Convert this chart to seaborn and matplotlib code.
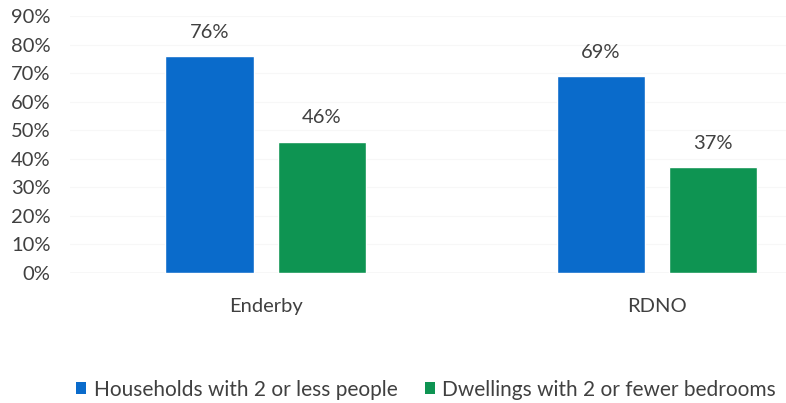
import matplotlib
matplotlib.use("Agg")
import matplotlib.pyplot as plt
import seaborn as sns
import pandas as pd
from matplotlib.ticker import PercentFormatter
from matplotlib.patches import Patch

categories = ["Enderby", "RDNO"]
series_names = ["Households with 2 or less people", "Dwellings with 2 or fewer bedrooms"]
households = [0.76, 0.69]
dwellings = [0.46, 0.37]
colors = ["#0A6BCB", "#0E9452"]
text_color = "#404040"

df = pd.DataFrame({
    "area": categories * 2,
    "series": [series_names[0]] * 2 + [series_names[1]] * 2,
    "share": households + dwellings,
})

sns.set_theme(style="white")
plt.rcParams["font.family"] = ["Lato", "DejaVu Sans"]

fig = plt.figure(figsize=(7.86, 4.03), dpi=100)
ax = fig.add_axes([0.089, 0.3226, 0.911, 0.6377])

sns.barplot(data=df, x="area", y="share", hue="series", hue_order=series_names,
            palette=colors, width=0.573, gap=0.214, saturation=1, ax=ax,
            legend=False, errorbar=None)

ax.set_ylim(0, 0.9)
ax.set_xlim(-0.5, 1.33)
ax.set_yticks([i / 10 for i in range(10)])
ax.yaxis.set_major_formatter(PercentFormatter(1.0, decimals=0))
ax.tick_params(axis="y", labelsize=14.5, labelcolor=text_color, pad=14, length=0)
ax.tick_params(axis="x", labelsize=14.5, labelcolor=text_color, pad=18, length=0)
ax.set_xlabel("")
ax.set_ylabel("")
for s in ax.spines.values():
    s.set_visible(False)
ax.yaxis.grid(True, color="#f7f7f7", linewidth=0.8)
ax.set_axisbelow(True)
ax.axhline(0, color="#d9d9d9", linewidth=1.0, zorder=0.5)

for cont in ax.containers:
    ax.bar_label(cont, labels=[f"{v*100:.0f}%" for v in cont.datavalues],
                 padding=11, fontsize=14.5, color=text_color)

handles = [Patch(facecolor=c, edgecolor="none") for c in colors]
fig.legend(handles, series_names, loc="center", bbox_to_anchor=(0.542, 0.033),
           ncol=2, frameon=False, fontsize=15, labelcolor=text_color,
           handlelength=0.5, handleheight=0.5, handletextpad=0.35, columnspacing=1.3)

fig.savefig("out.png", dpi=100)
